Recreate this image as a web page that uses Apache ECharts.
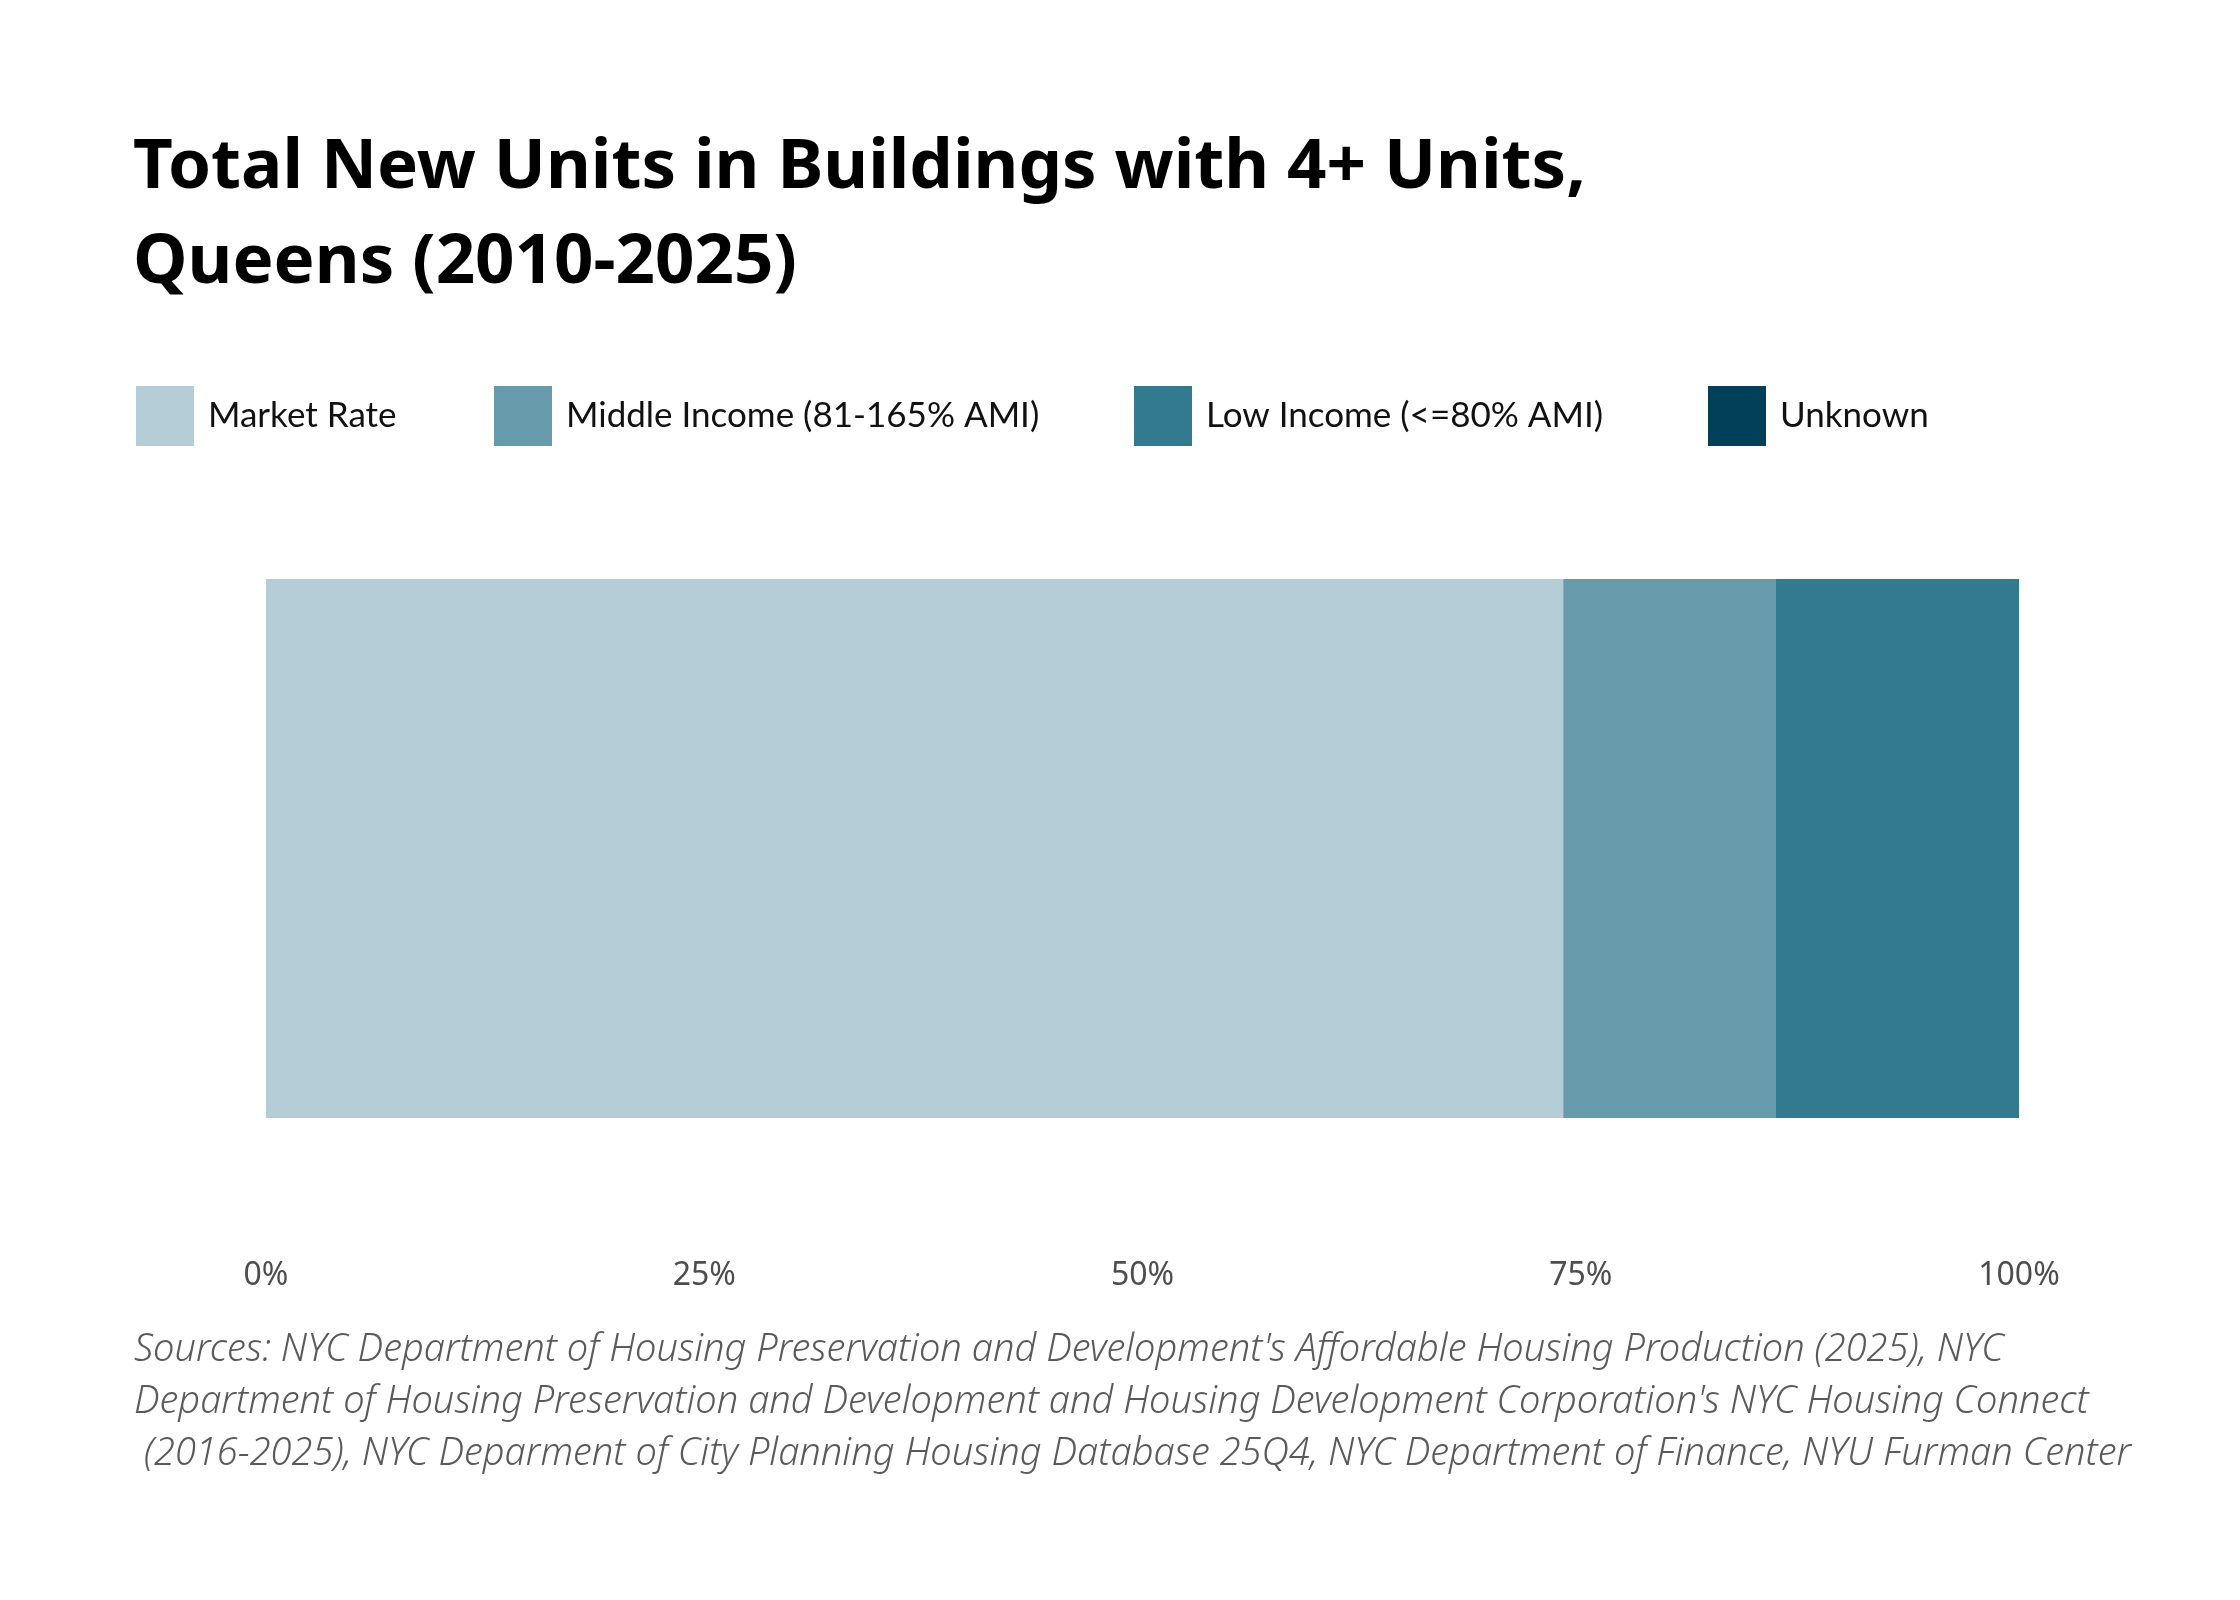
<!DOCTYPE html>
<html>
<head>
<meta charset="utf-8">
<title>Total New Units in Buildings with 4+ Units, Queens (2010-2025)</title>
<script src="https://cdn.jsdelivr.net/npm/echarts@6/dist/echarts.min.js"></script>
<style>
  html, body { margin: 0; padding: 0; background: #fff; }
  #chart { width: 2240px; height: 1600px; }
</style>
</head>
<body>
<div id="chart"></div>
<script>
// data (share of units, %)
const categories = ['Queens'];
const seriesNames = ['Market Rate', 'Middle Income (81-165% AMI)', 'Low Income (<=80% AMI)', 'Unknown'];
const marketRate = [74.0];
const middleIncome = [12.1];
const lowIncome = [13.9];
const unknown = [0];
const tickLabels = ['0%', '25%', '50%', '75%', '100%'];

const colors = ['#b5cdd6', '#679bab', '#337a8f', '#02405a'];
const values = [marketRate, middleIncome, lowIncome, unknown];
const legendLeft = [136, 494, 1134, 1708];

const sourceText =
  "Sources: NYC Department of Housing Preservation and Development's Affordable Housing Production (2025), NYC\n" +
  "Department of Housing Preservation and Development and Housing Development Corporation's NYC Housing Connect\n" +
  " (2016-2025), NYC Deparment of City Planning Housing Database 25Q4, NYC Department of Finance, NYU Furman Center";

const chart = echarts.init(document.getElementById('chart'), null, { renderer: 'canvas' });

const option = {
  backgroundColor: '#ffffff',
  animation: false,
  title: {
    text: 'Total New Units in Buildings with 4+ Units,\nQueens (2010-2025)',
    left: 128,
    top: 116,
    textStyle: {
      fontFamily: 'Noto Sans',
      fontWeight: 'bold',
      fontSize: 69,
      lineHeight: 95,
      color: '#000000'
    }
  },
  legend: seriesNames.map((name, i) => ({
    data: [name],
    left: legendLeft[i],
    top: 386,
    padding: 0,
    itemWidth: 58,
    itemHeight: 60,
    icon: 'rect',
    selectedMode: false,
    textStyle: {
      fontFamily: 'Lato',
      fontSize: 35,
      color: '#111111',
      padding: [0, 0, 0, 9]
    }
  })),
  grid: {
    left: 266,
    right: 221,
    top: 579,
    height: 539,
    containLabel: false
  },
  xAxis: {
    type: 'value',
    min: 0,
    max: 100,
    interval: 25,
    axisLine: { show: false },
    axisTick: { show: false },
    splitLine: { show: false },
    axisLabel: {
      margin: 142,
      fontFamily: 'Noto Sans',
      fontSize: 32,
      color: '#4d4d4d',
      formatter: v => tickLabels[v / 25]
    }
  },
  yAxis: {
    type: 'category',
    data: categories,
    show: false
  },
  series: seriesNames.map((name, i) => ({
    name: name,
    type: 'bar',
    stack: 'total',
    barWidth: '100%',
    data: values[i],
    itemStyle: { color: colors[i] },
    emphasis: { disabled: true }
  })),
  graphic: [{
    type: 'text',
    left: 134,
    top: 1324,
    style: {
      text: sourceText,
      fontFamily: 'Noto Sans',
      fontStyle: 'italic',
      fontWeight: 300,
      fontSize: 38,
      lineHeight: 52,
      fill: '#5a5a5a'
    }
  }]
};

chart.setOption(option);
</script>
</body>
</html>
